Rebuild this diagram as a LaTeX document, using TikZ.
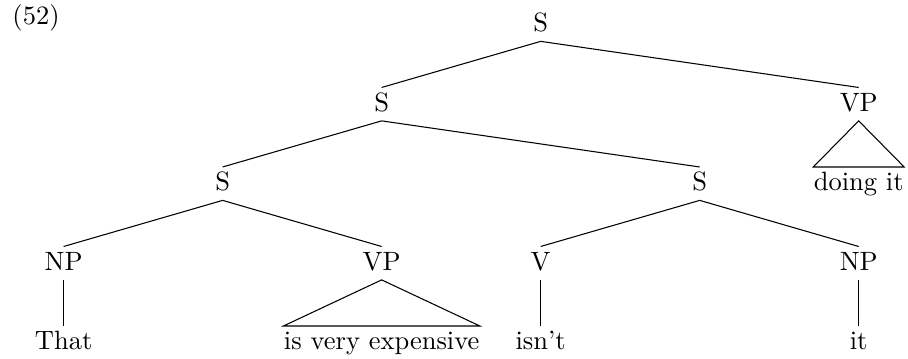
\documentclass[tikz,border=0pt]{standalone}
\usepackage{tikz}
\tikzset{
  cat/.style={text height=7pt, text depth=1.6pt, inner ysep=1.8pt, inner xsep=0pt, anchor=base},
}

\begin{document}
\begin{tikzpicture}[x=60pt,y=-30pt]
  \useasboundingbox (0,0) rectangle (5.71,4.503);
  \node[anchor=base west,inner sep=0pt] (exnum) at (0.075,0.313) {(52)};
  % categories
  \node[cat] (s0) at (3.4,0.4) {S};
  \node[cat] (s1) at (2.4,1.4) {S};
  \node[cat] (vp0) at (5.4,1.4) {VP};
  \node[cat] (s2) at (1.4,2.4) {S};
  \node[cat] (s3) at (4.4,2.4) {S};
  \node[cat] (np0) at (0.4,3.4) {NP};
  \node[cat] (vp1) at (2.4,3.4) {VP};
  \node[cat] (v0) at (3.4,3.4) {V};
  \node[cat] (np1) at (5.4,3.4) {NP};
  % words
  \node[cat] (w0) at (0.4,4.4) {That};
  \node[cat] (w1) at (2.4,4.4) {is very expensive};
  \node[cat] (w2) at (3.4,4.4) {isn't};
  \node[cat] (w3) at (5.4,4.4) {it};
  \node[cat] (w4) at (5.4,2.4) {doing it};
  % branches
  \foreach \a/\b in {s0/s1,s0/vp0,s1/s2,s1/s3,s2/np0,s2/vp1,s3/v0,s3/np1,np0/w0,v0/w2,np1/w3}{
     \draw (\a.south)--(\b.north);}
  \foreach \a/\b in {vp0/w4,vp1/w1}{
     \draw (\a.south)--(\b.north west)--(\b.north east)--cycle;}
\end{tikzpicture}
\end{document}
